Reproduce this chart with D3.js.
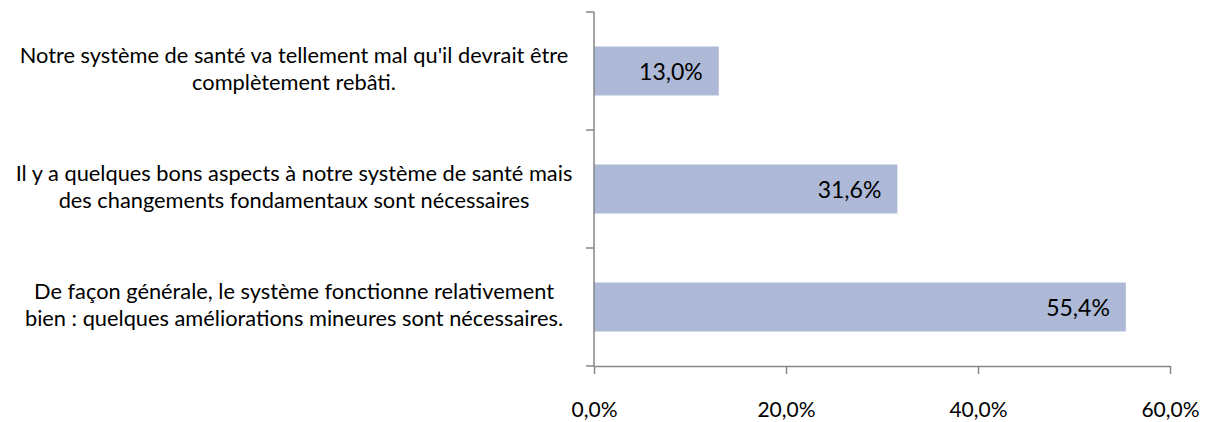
<!DOCTYPE html>
<html lang="en">
<head>
<meta charset="utf-8">
<script src="https://cdn.jsdelivr.net/npm/d3@7"></script>
<style type="text/css">
body { margin: 0; background: #fff; }
text { font-family: Lato, "Open Sans", sans-serif; fill: #000; }
</style>
</head>
<body>
<script type="text/javascript">

// data
var categories = [
	["Notre système de santé va tellement mal qu'il devrait être", "complètement rebâti."],
	["Il y a quelques bons aspects à notre système de santé mais", "des changements fondamentaux sont nécessaires"],
	["De façon générale, le système fonctionne relativement", "bien : quelques améliorations mineures sont nécessaires."]
];
var values = [13.0, 31.6, 55.4];
var valueLabels = ["13,0%", "31,6%", "55,4%"];
var tickValues = [0, 20, 40, 60];
var tickLabels = ["0,0%", "20,0%", "40,0%", "60,0%"];

var width = 1211;
var height = 422;

var svg = d3.select("body")
	.append("svg")
	.attr("width", width)
	.attr("height", height);

var x = d3.scaleLinear()
	.domain([0, 60])
	.range([594, 1170]);

var y = d3.scaleBand()
	.domain(d3.range(categories.length))
	.range([12, 366])
	.paddingInner(0.585)
	.paddingOuter(0.2925);

var axisColor = "#868686";

// bars
svg.selectAll("rect.bar")
	.data(values)
	.enter()
	.append("rect")
	.attr("class", "bar")
	.attr("x", x(0))
	.attr("y", function(d, i) { return y(i); })
	.attr("width", function(d) { return x(d) - x(0); })
	.attr("height", y.bandwidth())
	.style("fill", "#adb9d6");

// value labels inside bars
svg.selectAll("text.val")
	.data(values)
	.enter()
	.append("text")
	.attr("class", "val")
	.attr("x", function(d) { return x(d) - 16; })
	.attr("y", function(d, i) { return y(i) + y.bandwidth() / 2 + 9; })
	.attr("text-anchor", "end")
	.style("font-size", "23px")
	.text(function(d, i) { return valueLabels[i]; });

// vertical axis with ticks between categories
var bounds = d3.range(categories.length + 1).map(function(i) { return 12 + i * y.step(); });
svg.append("line")
	.attr("x1", x(0)).attr("x2", x(0))
	.attr("y1", bounds[0]).attr("y2", bounds[bounds.length - 1])
	.style("stroke", axisColor)
	.style("stroke-width", 1.5);
svg.selectAll("line.ytick")
	.data(bounds)
	.enter()
	.append("line")
	.attr("class", "ytick")
	.attr("x1", x(0) - 8).attr("x2", x(0))
	.attr("y1", function(d) { return d; })
	.attr("y2", function(d) { return d; })
	.style("stroke", axisColor)
	.style("stroke-width", 1.5);

// horizontal axis
var xAxis = d3.axisBottom(x)
	.tickValues(tickValues)
	.tickSizeInner(8)
	.tickSizeOuter(0)
	.tickPadding(10)
	.tickFormat(function(d, i) { return tickLabels[i]; });

var gx = svg.append("g")
	.attr("transform", "translate(0," + 366 + ")")
	.call(xAxis);
gx.select(".domain").style("stroke", axisColor).style("stroke-width", 1.5);
gx.selectAll(".tick line").style("stroke", axisColor).style("stroke-width", 1.5);
gx.selectAll(".tick text")
	.style("font-size", "21px")
	.style("font-family", "Lato, 'Open Sans', sans-serif")
	.attr("y", 51)
	.attr("dy", "0");

// category labels, two lines centered
var cat = svg.selectAll("text.cat")
	.data(categories)
	.enter()
	.append("text")
	.attr("class", "cat")
	.attr("text-anchor", "middle")
	.style("font-size", "21.8px")
	.attr("y", function(d, i) { return y(i) + y.bandwidth() / 2; });

cat.selectAll("tspan")
	.data(function(d) { return d; })
	.enter()
	.append("tspan")
	.attr("x", 294)
	.attr("dy", function(d, j) { return j === 0 ? -8 : 27; })
	.text(function(d) { return d; });

</script>
</body>
</html>
